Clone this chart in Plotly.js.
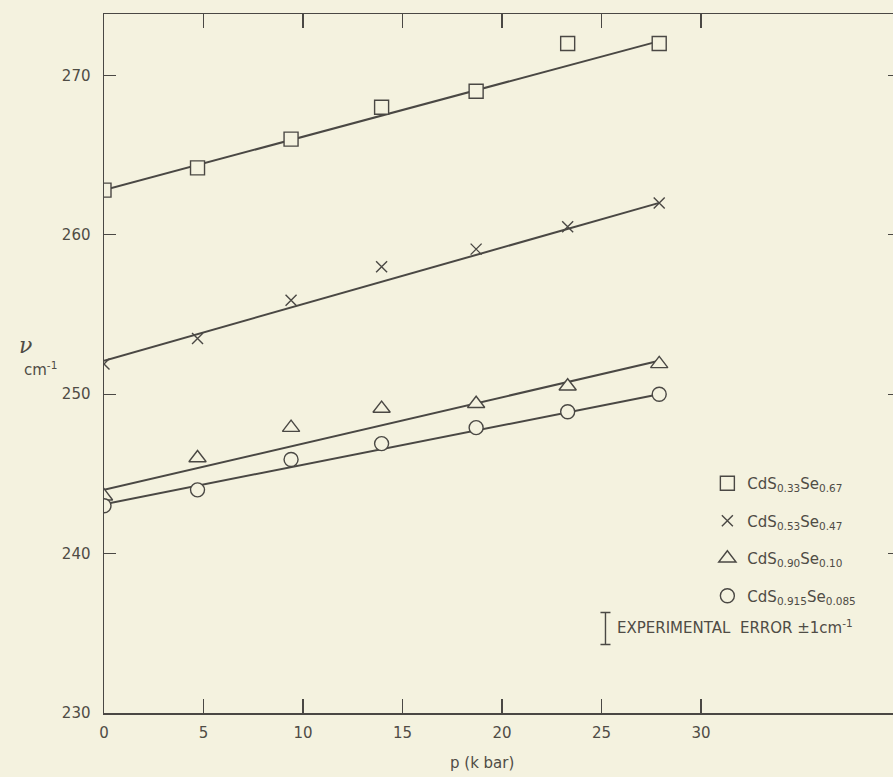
<!DOCTYPE html>
<html>
<head>
<meta charset="utf-8">
<script src="https://cdn.plot.ly/plotly-3.0.1.min.js"></script>
<style>
  html, body { margin: 0; padding: 0; background: #f4f2df; overflow: hidden; }
  #chart { width: 910px; height: 777px; }
</style>
</head>
<body>
<div id="chart"></div>
<script>
// Pressure (kbar)
const pressure = [0, 4.7, 9.4, 13.95, 18.7, 23.3, 27.9];

// Measured frequencies (cm^-1)
const nuCdS033 = [262.8, 264.2, 266.0, 268.0, 269.0, 272.0, 272.0];
const nuCdS053 = [251.9, 253.5, 255.9, 258.0, 259.1, 260.5, 262.0];
const nuCdS090 = [243.6, 246.0, 247.9, 249.1, 249.4, 250.5, 251.9];
const nuCdS0915 = [243.0, 244.0, 245.9, 246.9, 247.9, 248.9, 250.0];

// Fitted straight lines (end points)
const fitP = [0, 27.9];
const fitCdS033 = [262.8, 272.15];
const fitCdS053 = [252.1, 262.0];
const fitCdS090 = [244.0, 252.1];
const fitCdS0915 = [243.1, 250.0];

// Legend names
const names = [
  'CdS<sub>0.33</sub>Se<sub>0.67</sub>',
  'CdS<sub>0.53</sub>Se<sub>0.47</sub>',
  'CdS<sub>0.90</sub>Se<sub>0.10</sub>',
  'CdS<sub>0.915</sub>Se<sub>0.085</sub>'
];

// Axis ticks
const xTicks = [0, 5, 10, 15, 20, 25, 30];
const yTicks = [230, 240, 250, 260, 270];

// Experimental error indicator (±1 cm^-1)
const errP = [25.2];
const errNu = [235.3];
const errSize = [1];

const ink = '#4a4844';
const bg = '#f4f2df';
const txt = '#4f4c45';

const fitLine = (y) => ({
  x: fitP, y: y, mode: 'lines', type: 'scatter', showlegend: false,
  hoverinfo: 'skip', line: { color: ink, width: 2 }
});

const pts = (y, sym, size, name, i, filled) => ({
  x: pressure, y: y, mode: 'markers', type: 'scatter', name: name,
  legendgroup: 'g' + i,
  marker: {
    symbol: sym, size: size,
    color: filled ? bg : ink,
    line: { color: ink, width: 1.4 }
  }
});

const traces = [
  fitLine(fitCdS033), fitLine(fitCdS053), fitLine(fitCdS090), fitLine(fitCdS0915),
  pts(nuCdS033, 'square', 14, names[0], 0, true),
  pts(nuCdS053, 'x-thin', 11, names[1], 1, false),
  pts(nuCdS090, 'triangle-up', 15, names[2], 2, true),
  pts(nuCdS0915, 'circle', 14, names[3], 3, true),
  {
    x: errP, y: errNu, mode: 'markers', type: 'scatter', showlegend: false,
    hoverinfo: 'skip', marker: { size: 1, color: ink, opacity: 0 },
    error_y: { type: 'data', array: errSize, visible: true, color: ink, thickness: 1.4, width: 5 }
  }
];

const font = { family: 'DejaVu Sans, sans-serif', size: 15, color: txt };

const layout = {
  width: 910, height: 777,
  margin: { l: 104, r: 10, t: 14, b: 64 },
  paper_bgcolor: bg, plot_bgcolor: bg,
  font: font,
  showlegend: true,
  legend: {
    x: 0.758, y: 0.352, xanchor: 'left', yanchor: 'top',
    bgcolor: 'rgba(0,0,0,0)', traceorder: 'grouped', tracegroupgap: 15,
    font: { family: 'DejaVu Sans, sans-serif', size: 15, color: txt }
  },
  xaxis: {
    range: [0, 40], tickvals: xTicks, ticktext: xTicks.map(String),
    ticks: 'inside', ticklen: 14, tickwidth: 1.2, tickcolor: ink,
    showline: true, linecolor: ink, linewidth: 1.5, mirror: 'ticks',
    showgrid: false, zeroline: false, ticklabelstandoff: 5,
    tickfont: font
  },
  yaxis: {
    range: [230, 273.85], tickvals: yTicks, ticktext: yTicks.map(String),
    ticks: 'inside', ticklen: 12, tickwidth: 1.2, tickcolor: ink,
    showline: true, linecolor: ink, linewidth: 1.5, mirror: 'ticks',
    showgrid: false, zeroline: false, ticklabelstandoff: 9, tickfont: font
  },
  annotations: [
    { text: '<i>ν</i>', xref: 'paper', yref: 'paper', x: -0.109, y: (712.5 - 345) / 698.5,
      showarrow: false, font: { family: 'DejaVu Serif, serif', size: 22, color: txt } },
    { text: 'cm<sup>-1</sup>', xref: 'paper', yref: 'paper', x: -0.103, y: (712.5 - 369) / 698.5,
      showarrow: false, font: { family: 'DejaVu Sans, sans-serif', size: 15, color: txt } },
    { text: 'p (k bar)', xref: 'x', yref: 'paper', x: 19, y: (712.5 - 762) / 698.5, yanchor: 'middle',
      showarrow: false, font: { family: 'DejaVu Sans, sans-serif', size: 15, color: txt } },
    { text: 'EXPERIMENTAL  ERROR ±1cm<sup>-1</sup>', xref: 'x', yref: 'y', x: 25.7, y: 235.4,
      xanchor: 'left', showarrow: false,
      font: { family: 'DejaVu Sans, sans-serif', size: 15, color: txt } }
  ]
};

Plotly.newPlot('chart', traces, layout, { displayModeBar: false, staticPlot: true });
</script>
</body>
</html>
